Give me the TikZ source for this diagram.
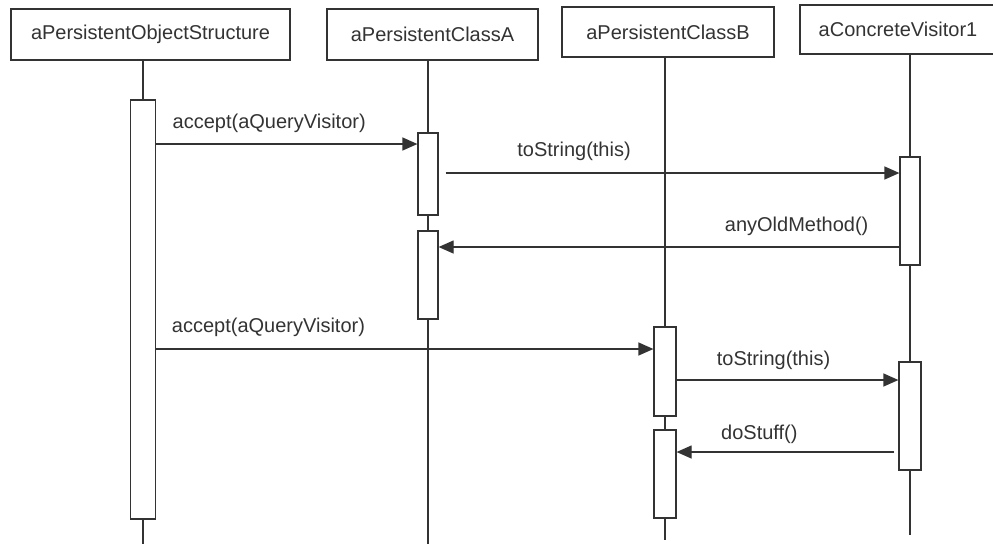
\documentclass[tikz,border=0pt]{standalone}
\usepackage{fontspec}
\setmainfont{Liberation Sans}
\usetikzlibrary{arrows.meta, backgrounds}
\definecolor{umlgray}{HTML}{333333}

\begin{document}
\begin{tikzpicture}[
    x=1pt, y=-1pt,
    >={Triangle[length=15pt, width=13pt]},
    every node/.style={font=\fontsize{20}{24}\selectfont, text=umlgray},
    header/.style={draw=umlgray, line width=1.2pt, rectangle, inner sep=0pt},
    act/.style={draw=umlgray, line width=1.2pt, fill=white, rectangle, inner sep=0pt},
    life/.style={draw=umlgray, line width=1.2pt},
    msg/.style={->, draw=umlgray, line width=1.2pt},
    msg label/.style={anchor=base, inner sep=0pt, yshift=16pt}
]
    \useasboundingbox (0,0) rectangle (993,544);

    % --- OBJECTS (Top) ---
    \node[header, minimum width=279pt, minimum height=51pt] (os) at (150.5, 34.5) {aPersistentObjectStructure};
    \node[header, minimum width=211pt, minimum height=51pt] (ca) at (432.5, 34.5) {aPersistentClassA};
    \node[header, minimum width=212pt, minimum height=50pt] (cb) at (668, 32) {aPersistentClassB};
    \node[header, minimum width=196pt, minimum height=49pt] (cv) at (898, 29.5) {aConcreteVisitor1};

    % --- ACTIVATIONS ---
    \node[act, minimum width=25pt, minimum height=419pt] (os1) at (143, 309.5) {};
    \node[act, minimum width=20pt, minimum height=82pt] (ca1) at (428, 174) {};
    \node[act, minimum width=20pt, minimum height=88pt] (ca2) at (428, 275) {};
    \node[act, minimum width=22pt, minimum height=89pt] (cb1) at (665, 371.5) {};
    \node[act, minimum width=22pt, minimum height=88pt] (cb2) at (665, 474) {};
    \node[act, minimum width=20pt, minimum height=108pt] (cv1) at (910, 211) {};
    \node[act, minimum width=22pt, minimum height=108pt] (cv2) at (910, 416) {};

    % --- LIFELINES ---
    \coordinate (osEnd) at (143, 544);
    \coordinate (caEnd) at (428, 544);
    \coordinate (cbEnd) at (665, 540);
    \coordinate (cvEnd) at (910, 535);
    \begin{scope}[on background layer]
        \draw[life] (os.south -| osEnd) -- (osEnd);
        \draw[life] (ca.south -| caEnd) -- (caEnd);
        \draw[life] (cb.south -| cbEnd) -- (cbEnd);
        \draw[life] (cv.south -| cvEnd) -- (cvEnd);
    \end{scope}

    % --- MESSAGES ---
    % structure -> class A
    \draw[msg] (os1.east |- 0,144) -- node[msg label, pos=0.433, yshift=-0.5pt] {accept(aQueryVisitor)} (ca1.west |- 0,144);

    % class A -> visitor
    \draw[msg] ([xshift=7pt]ca1.east |- 0,173) -- node[msg label, pos=0.283, yshift=1pt] {toString(this)} (cv1.west |- 0,173);

    % visitor -> class A (call back)
    \draw[msg] (cv1.west |- 0,247) -- node[msg label, pos=0.223] {anyOldMethod()} (ca2.east |- 0,247);

    % structure -> class B
    \draw[msg] (os1.east |- 0,349) -- node[msg label, pos=0.226, yshift=0.5pt] {accept(aQueryVisitor)} (cb1.west |- 0,349);

    % class B -> visitor
    \draw[msg] (cb1.east |- 0,380) -- node[msg label, pos=0.437, yshift=-1pt] {toString(this)} (cv2.west |- 0,380);

    % visitor -> class B (call back)
    \draw[msg] ([xshift=-4pt]cv2.west |- 0,452) -- node[msg label, pos=0.62, yshift=-3pt] {doStuff()} (cb2.east |- 0,452);

\end{tikzpicture}
\end{document}
